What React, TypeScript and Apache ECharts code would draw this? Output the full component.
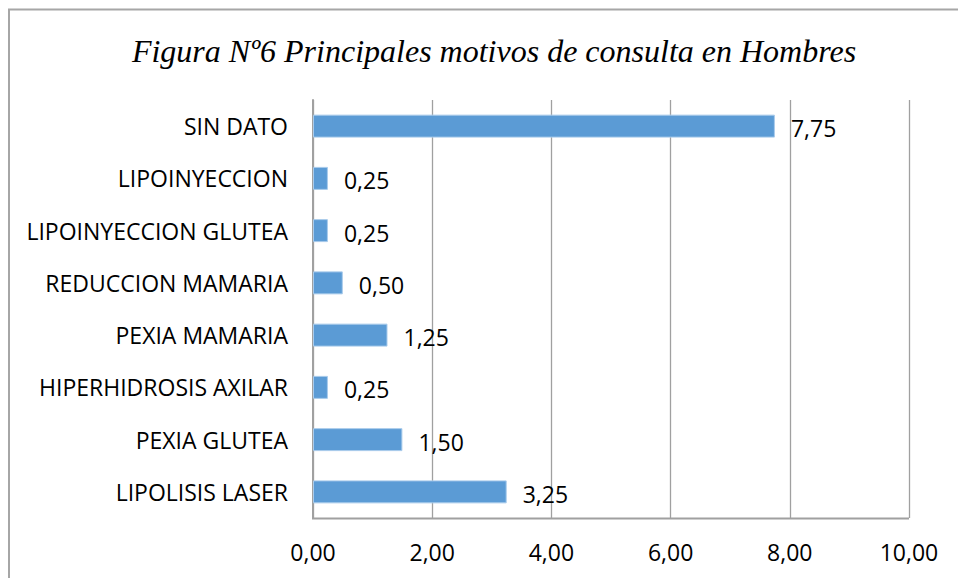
import React, { useEffect, useRef } from "react";
import * as echarts from "echarts";

const categories = [
  "LIPOLISIS LASER",
  "PEXIA GLUTEA",
  "HIPERHIDROSIS AXILAR",
  "PEXIA MAMARIA",
  "REDUCCION MAMARIA",
  "LIPOINYECCION GLUTEA",
  "LIPOINYECCION",
  "SIN DATO",
];
const values = [3.25, 1.5, 0.25, 1.25, 0.5, 0.25, 0.25, 7.75];
const titleText = "Figura Nº6 Principales motivos de consulta en Hombres";

const fmt = (v: number) => v.toFixed(2).replace(".", ",");

export default function App() {
  const ref = useRef<HTMLDivElement>(null);
  useEffect(() => {
    if (!ref.current) return;
    const chart = echarts.init(ref.current, null, { renderer: "svg" });
    const font = "'Open Sans', sans-serif";
    chart.setOption({
      animation: false,
      backgroundColor: "#ffffff",
      title: {
        text: titleText,
        left: 489,
        textAlign: "center",
        top: 30,
        textStyle: {
          fontFamily: "'Liberation Serif', 'Times New Roman', serif",
          fontStyle: "italic",
          fontWeight: "normal",
          fontSize: 32,
          color: "#000000",
        },
      },
      graphic: [
        {
          type: "rect",
          shape: { x: 9, y: 9.5, width: 1000, height: 1000 },
          style: { fill: "none", stroke: "#a6a6a6", lineWidth: 2 },
          silent: true,
        },
        {
          type: "line",
          shape: { x1: 312, y1: 518.5, x2: 909, y2: 518.5 },
          style: { stroke: "#a0a0a0", lineWidth: 2 },
          silent: true,
        },
      ],
      grid: { left: 313, right: 958 - 909, top: 100, bottom: 578 - 518, containLabel: false },
      xAxis: {
        type: "value",
        min: 0,
        max: 10,
        interval: 2,
        axisLine: { show: false },
        axisTick: { show: false },
        splitLine: { show: true, lineStyle: { color: "#a0a0a0", width: 1.3 } },
        axisLabel: {
          formatter: (v: number) => fmt(v),
          fontFamily: font,
          fontSize: 23,
          color: "#000000",
          margin: 22,
        },
      },
      yAxis: {
        type: "category",
        data: categories,
        axisLine: { show: true, lineStyle: { color: "#a0a0a0", width: 2 } },
        axisTick: { show: false },
        splitLine: { show: false },
        axisLabel: {
          fontFamily: font,
          fontSize: 23,
          color: "#000000",
          margin: 25,
        },
      },
      series: [
        {
          type: "bar",
          data: values,
          barWidth: "44%",
          itemStyle: { color: "#5b9bd5", borderColor: "#a9cbeb", borderWidth: 1 },
          label: {
            show: true,
            position: "right",
            distance: 16,
            offset: [0, 2],
            formatter: (p: any) => fmt(p.value),
            fontFamily: font,
            fontSize: 23,
            color: "#000000",
          },
        },
      ],
    });
    return () => chart.dispose();
  }, []);
  return <div ref={ref} style={{ width: 958, height: 578, position: "absolute", left: 0, top: 0 }} />;
}
